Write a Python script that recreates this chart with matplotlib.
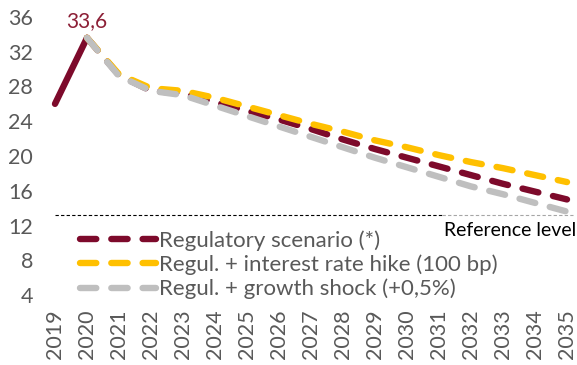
import matplotlib
matplotlib.use("Agg")
import matplotlib.pyplot as plt

plt.rcParams['font.family'] = ['Lato', 'DejaVu Sans']

years = list(range(2019, 2036))
year_labels = [str(y) for y in years]

# Debt ratio paths (2019 actual, 2020 onward projected)
regulatory = [26.0, 33.6, 29.3, 27.5, 27.2, 26.2, 25.2, 24.2, 23.1, 21.9,
              20.8, 19.8, 18.8, 17.8, 16.8, 15.9, 15.0]
rate_hike = [33.6, 29.4, 27.8, 27.5, 26.7, 25.7, 24.7, 23.7, 22.8, 21.8,
             21.0, 20.1, 19.3, 18.6, 17.8, 17.0]
growth_shock = [33.6, 29.2, 27.5, 27.0, 25.8, 24.6, 23.4, 22.2, 21.0, 19.8,
                18.7, 17.6, 16.5, 15.6, 14.6, 13.6]
reference_level = 13.2
peak_label = "33,6"

series_labels = ["Regulatory scenario (*)",
                 "Regul. + interest rate hike (100 bp)",
                 "Regul. + growth shock (+0,5%)"]
y_ticks = [4, 8, 12, 16, 20, 24, 28, 32, 36]

MAROON = "#7D0A2B"
YELLOW = "#FFC000"
GREY = "#BFBFBF"
TEXT = "#595959"

W, H = 577, 365
fig = plt.figure(figsize=(W / 100, H / 100), dpi=100)
left_px, right_px = 45.4, 576.6
top_px, bottom_px = 8.3, 303.7
ax = fig.add_axes([left_px / W, 1 - bottom_px / H,
                   (right_px - left_px) / W, (bottom_px - top_px) / H])
ax.set_xlim(2018.7, 2035.3)
ax.set_ylim(3, 37)

lw = 4.6
dash = (2.55, 2.35)

# reference level
ax.plot([2019, 2031.1], [reference_level] * 2, color="black", lw=0.8,
        dashes=(3, 2), zorder=1)
ax.plot([2031.1, 2035.2], [reference_level] * 2, color="#A6A6A6", lw=0.8,
        dashes=(3, 2), zorder=1)
ax.annotate("Reference level", xy=(2035.3, reference_level), xytext=(0, -5),
            textcoords="offset points", ha="right", va="top",
            fontsize=14, color="black")

proj_years = years[1:]
ax.plot(years[:2], regulatory[:2], color=MAROON, lw=lw,
        solid_capstyle="round", zorder=3, clip_on=False)
l1, = ax.plot(proj_years, regulatory[1:], color=MAROON, lw=lw,
              dashes=dash, dash_capstyle="round", zorder=3, clip_on=False)
l2, = ax.plot(proj_years, rate_hike, color=YELLOW, lw=lw,
              dashes=dash, dash_capstyle="round", zorder=4, clip_on=False)
l3, = ax.plot(proj_years, growth_shock, color=GREY, lw=lw,
              dashes=dash, dash_capstyle="round", zorder=5, clip_on=False)

ax.annotate(peak_label, xy=(2020, regulatory[1]), xytext=(0, 5),
            textcoords="offset points", ha="center", va="bottom",
            fontsize=15, color="#8C1F36")

ax.set_yticks(y_ticks)
ax.set_yticklabels([str(v) for v in y_ticks])
ax.set_xticks(years)
ax.set_xticklabels(year_labels, rotation=90, va="top")
ax.tick_params(axis="both", length=0, labelcolor=TEXT, labelsize=15.5)
ax.tick_params(axis="y", pad=9)
ax.tick_params(axis="x", pad=4)
for s in ax.spines.values():
    s.set_visible(False)

leg = ax.legend([l1, l2, l3], series_labels, loc="upper left",
                bbox_to_anchor=(80 / W, 1 - 230 / H),
                bbox_transform=fig.transFigure, frameon=False,
                fontsize=16, handlelength=3.4, handletextpad=0.15,
                labelspacing=0.17, borderpad=0, borderaxespad=0)
for t in leg.get_texts():
    t.set_color(TEXT)

fig.savefig("out.png", dpi=100)
